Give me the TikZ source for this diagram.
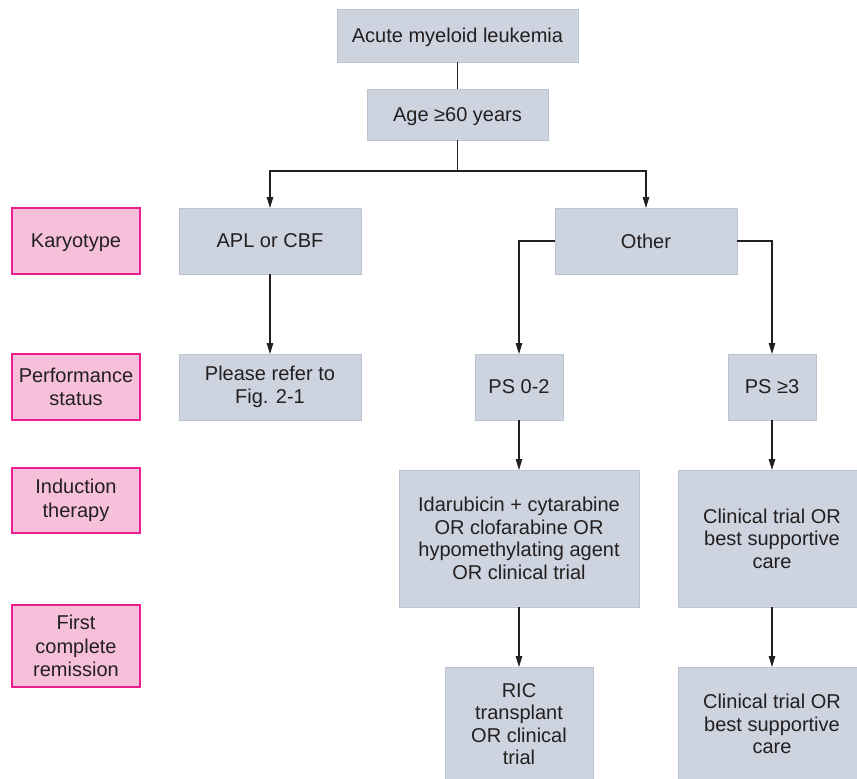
\documentclass[tikz,border=0pt]{standalone}
\usepackage{fontspec}
\setmainfont{Liberation Sans}
\usetikzlibrary{arrows.meta}
\definecolor{boxfill}{HTML}{CDD3DF}
\definecolor{boxline}{HTML}{BCC3D1}
\definecolor{pinkfill}{HTML}{F6C0DA}
\definecolor{pinkline}{HTML}{EC1E8E}
\definecolor{txt}{HTML}{231F20}
\tikzset{
  gbox/.style={draw=boxline, fill=boxfill, line width=1pt, inner sep=0pt, outer sep=0pt,
    align=center, text=txt, font=\fontsize{20}{22.5}\selectfont},
  pbox/.style={draw=pinkline, fill=pinkfill, line width=1.4pt, inner sep=0pt, outer sep=0pt,
    align=center, text=txt, font=\fontsize{20}{23.5}\selectfont,
    minimum width=128pt},
  oneline/.style={text depth=0pt},
  conn/.style={draw=txt, line width=1.1pt},
  arr/.style={conn, -{Triangle[length=11pt,width=6.5pt]}}
}
\begin{document}
\begin{tikzpicture}[x=1pt,y=-1pt]
\useasboundingbox (0,0) rectangle (857,779);
\clip (0,0) rectangle (857,779);
\fill[white] (0,0) rectangle (857,779);

% left category labels
\node[pbox, oneline, minimum height=66pt] (kary) at (76,241) {Karyotype};
\node[pbox, minimum height=66pt] (perf) at (76,387) {Performance\\status};
\node[pbox, minimum height=65pt] (ind) at (76,500.5) {Induction\\therapy};
\node[pbox, minimum height=82pt] (fcr) at (76,646) {First\\complete\\remission};

% flow boxes
\node[gbox, oneline, minimum width=241pt, minimum height=53pt] (aml) at (457.5,35.5) {Acute myeloid leukemia};
\node[gbox, oneline, minimum width=181pt, minimum height=51pt] (age) at (457.5,114.5) {Age ≥60 years};
\node[gbox, oneline, minimum width=182pt, minimum height=66pt] (apl) at (270,241) {APL or CBF};
\node[gbox, oneline, minimum width=182pt, minimum height=66pt] (other) at (646,241) {Other};
\node[gbox, minimum width=182pt, minimum height=66pt] (refer) at (270,387) {Please refer to\\Fig. 2-1};
\node[gbox, oneline, minimum width=88pt, minimum height=66pt] (ps02) at (519,387) {PS 0-2};
\node[gbox, oneline, minimum width=88pt, minimum height=66pt] (ps3) at (772,387) {PS ≥3};
\node[gbox, minimum width=240pt, minimum height=137pt] (idar) at (519,538.5)
  {Idarubicin + cytarabine\\OR clofarabine OR\\hypomethylating agent\\OR clinical trial};
\node[gbox, minimum width=188pt, minimum height=137pt] (ctmid) at (772,538.5)
  {Clinical trial OR\\best supportive\\care};
\node[gbox, minimum width=148pt, minimum height=114pt] (ric) at (519,724)
  {RIC\\transplant\\OR clinical\\trial};
\node[gbox, minimum width=188pt, minimum height=114pt] (ctbot) at (772,724)
  {Clinical trial OR\\best supportive\\care};

% connectors
\draw[conn] (aml) -- (age);
\draw[arr] (age.south) -- ++(0,31) -| (apl.north);
\draw[arr] (age.south) -- ++(0,31) -| (other.north);
\draw[arr] (apl) -- (refer);
\draw[arr] (other.west) -| (ps02.north);
\draw[arr] (other.east) -| (ps3.north);
\draw[arr] (ps02) -- (idar);
\draw[arr] (ps3) -- (ctmid);
\draw[arr] (idar) -- (ric);
\draw[arr] (ctmid) -- (ctbot);
\end{tikzpicture}
\end{document}
